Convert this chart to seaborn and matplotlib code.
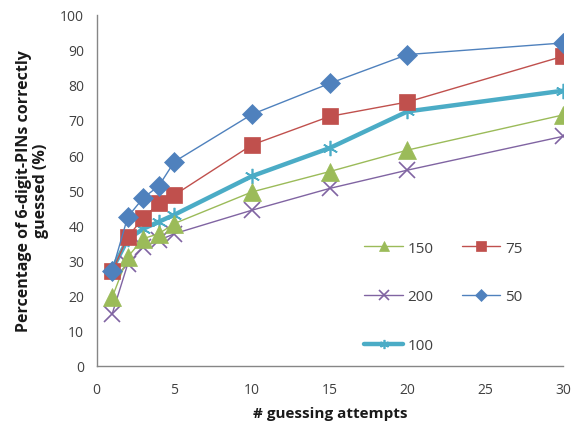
import matplotlib
matplotlib.use("Agg")
import matplotlib.pyplot as plt
import seaborn as sns
import pandas as pd
from matplotlib.lines import Line2D

attempts = [1, 2, 3, 4, 5, 10, 15, 20, 30]
pct_150 = [19.5, 31.0, 36.2, 37.6, 40.5, 49.5, 55.3, 61.4, 71.4]
pct_75 = [26.9, 36.7, 42.1, 46.2, 48.6, 62.9, 71.0, 75.1, 88.1]
pct_200 = [14.8, 29.0, 33.8, 35.7, 37.6, 44.3, 50.5, 55.7, 65.3]
pct_50 = [27.1, 42.4, 47.8, 51.2, 58.1, 71.6, 80.4, 88.6, 91.9]
pct_100 = [27.5, 36.0, 39.0, 41.0, 43.0, 54.0, 62.0, 72.4, 78.3]

x_ticks = [0, 5, 10, 15, 20, 25, 30]
y_ticks = [0, 10, 20, 30, 40, 50, 60, 70, 80, 90, 100]

series = {
    "150": pct_150,
    "75": pct_75,
    "200": pct_200,
    "50": pct_50,
    "100": pct_100,
}

styles = {
    "150": dict(color="#9BBB59", lw=1.0, marker="^", ms=13, mew=0.5),
    "75": dict(color="#C0504D", lw=1.0, marker="s", ms=11, mew=0.5),
    "200": dict(color="#8064A2", lw=1.0, marker="x", ms=11, mew=1.2),
    "50": dict(color="#4F81BD", lw=1.0, marker="D", ms=10, mew=0.5),
    "100": dict(color="#4BACC6", lw=3.2, marker=(6, 2, 0), ms=11, mew=1.2),
}

rows = []
for name, vals in series.items():
    for a, v in zip(attempts, vals):
        rows.append({"attempts": a, "pct": v, "group": name})
df = pd.DataFrame(rows)

sns.set_style("white")
plt.rcParams["font.family"] = ["Open Sans", "DejaVu Sans"]

fig = plt.figure(figsize=(5.72, 4.31), dpi=100)
ax = fig.add_axes([0.169, 0.149, 0.815, 0.815])

draw_order = ["200", "150", "100", "75", "50"]
for name in draw_order:
    st = styles[name]
    sub = df[df["group"] == name]
    sns.lineplot(data=sub, x="attempts", y="pct", ax=ax, color=st["color"],
                 linewidth=st["lw"], marker=st["marker"], markersize=st["ms"],
                 markeredgewidth=st["mew"], markeredgecolor=st["color"],
                 label=name, legend=False, zorder=3 if name != "100" else 2.5)

ax.set_xlim(0, 30)
ax.set_ylim(0, 100)
ax.set_xticks(x_ticks)
ax.set_yticks(y_ticks)
ax.tick_params(axis="both", which="major", length=4, width=1, color="#868686",
               labelsize=10, labelcolor="#404040", direction="out", pad=5)
ax.tick_params(axis="x", pad=8)
for s in ["top", "right"]:
    ax.spines[s].set_visible(False)
for s in ["left", "bottom"]:
    ax.spines[s].set_color("#868686")
    ax.spines[s].set_linewidth(1.0)

ax.set_xlabel("# guessing attempts", fontsize=11, fontweight="bold", color="#1a1a1a", labelpad=6)
ax.set_ylabel("Percentage of 6-digit-PINs correctly\nguessed (%)", fontsize=11.5,
              fontweight="bold", color="#1a1a1a", labelpad=8, linespacing=1.05)

legend_order = ["150", "200", "100", "75", "50"]
handles = []
for name in legend_order:
    st = styles[name]
    handles.append(Line2D([0], [0], color=st["color"], lw=st["lw"], marker=st["marker"],
                          markersize=st["ms"] * 0.6, markeredgewidth=st["mew"],
                          markeredgecolor=st["color"]))
leg = ax.legend(handles, legend_order, ncol=2, loc="upper left",
                bbox_to_anchor=(0.545, 0.395), frameon=False, fontsize=11,
                handlelength=2.5, handletextpad=0.3, columnspacing=1.9,
                labelspacing=2.2, labelcolor="#404040")

fig.savefig("out.png", dpi=100)
